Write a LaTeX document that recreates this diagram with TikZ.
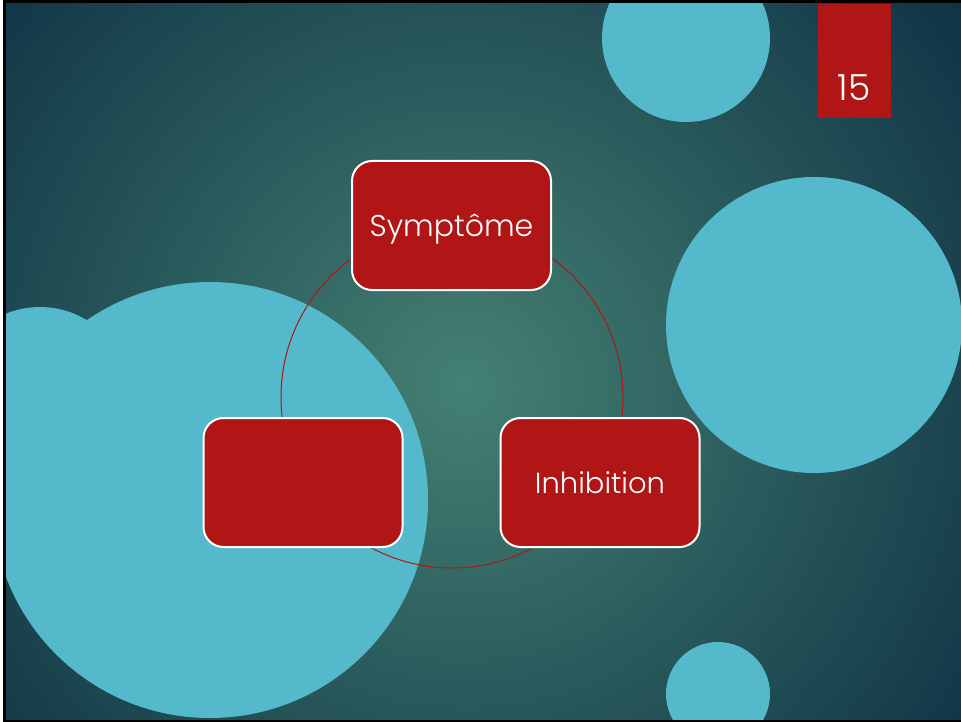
\documentclass[tikz,border=0pt]{standalone}
\usepackage{fontspec}
\setmainfont{Poppins Light}
\definecolor{bgmid}{RGB}{68, 128, 115}
\definecolor{bgdark}{RGB}{14, 50, 68}
\definecolor{bubble}{RGB}{84, 185, 203}
\definecolor{boxred}{RGB}{176, 22, 21}
\usetikzlibrary{positioning}

\begin{document}
\begin{tikzpicture}[x=1pt, y=-1pt]
  % Frame and background
  \useasboundingbox (0, 0) rectangle (961, 722);
  \fill[white] (0, 0) rectangle (961, 722);
  \fill[black] (3, 0) rectangle (961, 722);
  \begin{scope}
    \clip (6, 4) rectangle (961, 719);
    \shade[inner color=bgmid, outer color=bgdark] (465, 385) circle (640);

    % Bubbles
    \fill[bubble] (686, 38) circle (84);
    \fill[bubble] (814, 325) circle (148);
    \fill[bubble] (40, 397) circle (90);
    \fill[bubble] (210, 500) circle (218);
    \fill[bubble] (718, 694) circle (52);
  \end{scope}

  % Slide number
  \node[fill=boxred, minimum width=73pt, minimum height=114pt, anchor=north, inner sep=0pt] (num) at (854, 4) {};
  \node[text=white, font=\fontsize{36}{40}\selectfont, anchor=base] (numtxt) at (854, 101) {15};

  % Cycle
  \coordinate (ctr) at (452, 397);
  \draw[boxred, line width=1pt] (ctr) circle (171);

  % Three steps
  \node[draw=white, line width=2pt, fill=boxred, rounded corners=20pt, minimum width=199pt, minimum height=129pt, text depth=0pt, text=white, font=\fontsize{30}{36}\selectfont] (sympt) at (451.5, 225.5) {Symptôme};
  \node[draw=white, line width=2pt, fill=boxred, rounded corners=20pt, minimum width=199pt, minimum height=129pt] (blank) at (303, 482.5) {};
  \node[draw=white, line width=2pt, fill=boxred, rounded corners=20pt, minimum width=199pt, minimum height=129pt, text depth=0pt, text=white, font=\fontsize{29}{36}\selectfont] (inhib) at (600, 482.5) {Inhibition};
\end{tikzpicture}
\end{document}
